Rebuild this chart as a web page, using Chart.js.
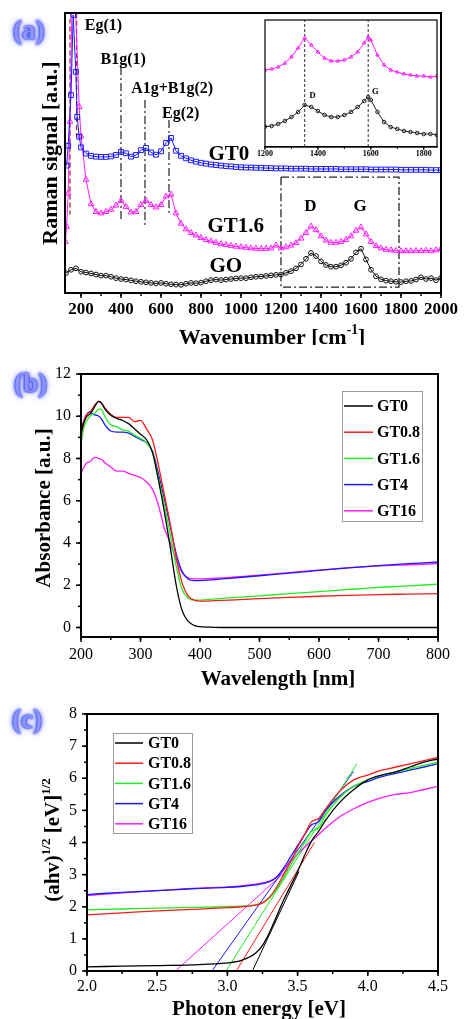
<!DOCTYPE html>
<html>
<head>
<meta charset="utf-8">
<script src="https://cdn.jsdelivr.net/npm/chart.js@4.4.0/dist/chart.umd.min.js"></script>
<style>
body { margin: 0; background: #fff; width: 464px; height: 1019px; position: relative; overflow: hidden; }
canvas { position: absolute; left: 0; }
.tag { position: absolute; font: bold 27px 'Liberation Serif', serif; line-height: 27px; color: #8d96ff;
       text-shadow: 0 0 2px #2633e6, 0 0 3px #2633e6, 0 0 6px #5563ff; }
</style>
</head>
<body>
<div class="tag" style="left:13px;top:17px">(a)</div>
<div class="tag" style="left:14px;top:370px">(b)</div>
<div class="tag" style="left:12px;top:706px">(c)</div>
<canvas id="ca" width="464" height="345" style="top:0"></canvas>
<canvas id="cin" width="190" height="150" style="left:255px;top:14px"></canvas>
<canvas id="cb" width="464" height="350" style="top:340px"></canvas>
<canvas id="cc" width="464" height="334" style="top:685px"></canvas>
<script>
// ---- (a) Raman ----
const ramanTicks = [200, 400, 600, 800, 1000, 1200, 1400, 1600, 1800, 2000];
const ramanX = [200, 225, 250, 275, 300, 325, 350, 375, 400, 425,
    450, 475, 500, 525, 550, 575, 600, 625, 650, 675,
    700, 725, 750, 775, 800, 825, 850, 875, 900, 925,
    950, 975, 1000, 1025, 1050, 1075, 1100, 1125, 1150, 1175,
    1200, 1225, 1250, 1275, 1300, 1325, 1350, 1375, 1400, 1425,
    1450, 1475, 1500, 1525, 1550, 1575, 1600, 1625, 1650, 1675,
    1700, 1725, 1750, 1775, 1800, 1825, 1850, 1875, 1900, 1925,
    1950, 1975, 2000];
const gt0LowX = [128, 136, 150, 161, 174, 181, 191];
const gt0LowY = [45.5, 52.6, 70.7, 99.3, 79.0, 62.9, 55.8];
const gt0Y = [52.0, 49.8, 49.0, 48.7, 48.6, 48.6, 48.8, 49.3, 50.4, 49.9,
    48.7, 49.3, 51.0, 51.8, 50.2, 49.4, 50.6, 53.6, 55.4, 50.8,
    49.0, 48.1, 47.4, 46.9, 46.5, 46.2, 45.9, 45.7, 45.5, 45.3,
    45.2, 45.0, 44.9, 44.8, 44.8, 44.7, 44.7, 44.6, 44.6, 44.5,
    44.5, 44.5, 44.4, 44.4, 44.4, 44.4, 44.3, 44.3, 44.3, 44.3,
    44.3, 44.3, 44.2, 44.2, 44.2, 44.2, 44.2, 44.2, 44.1, 44.1,
    44.1, 44.1, 44.1, 44.1, 44.0, 44.0, 44.0, 44.0, 44.0, 44.0,
    43.9, 43.9, 43.9];
const gt16LowX = [122, 128, 136, 145, 160, 191];
const gt16LowY = [18.3, 23.7, 35.6, 61.2, 125, 66.5];
const gt16Y = [56.0, 40.5, 31.8, 29.0, 28.5, 29.0, 29.8, 31.3, 33.0, 30.8,
    28.8, 29.0, 31.5, 33.0, 31.5, 30.6, 31.5, 34.5, 35.2, 28.5,
    24.8, 22.8, 21.5, 20.6, 19.7, 19.0, 18.5, 18.0, 17.5, 17.2,
    16.9, 16.6, 16.4, 16.2, 16.0, 15.9, 15.8, 15.8, 16.0, 17.0,
    16.0, 16.4, 17.0, 17.9, 19.5, 21.5, 23.8, 22.5, 20.3, 18.8,
    18.0, 18.0, 18.3, 19.0, 20.3, 22.3, 23.5, 21.0, 18.3, 16.8,
    16.0, 15.5, 15.3, 15.1, 15.0, 15.0, 15.0, 15.1, 15.0, 15.2,
    15.0, 15.3, 15.8];
const goLowX = [125, 150, 175];
const goLowY = [7.1, 8.3, 8.8];
const goY = [7.6, 7.3, 7.0, 6.6, 6.2, 6.2, 5.8, 5.3, 5.0, 4.8,
    4.5, 4.2, 4.0, 3.8, 3.6, 3.4, 3.6, 3.3, 3.1, 3.0,
    2.9, 3.3, 3.6, 3.5, 3.7, 4.2, 4.6, 4.8, 4.6, 4.8,
    5.0, 5.2, 5.3, 5.3, 5.6, 5.8, 5.9, 6.1, 6.3, 6.5,
    6.6, 7.2, 7.8, 8.8, 10.2, 12.2, 14.3, 13.2, 11.3, 10.0,
    9.4, 9.4, 9.9, 10.8, 12.2, 14.5, 15.8, 12.0, 8.3, 6.0,
    4.9, 4.4, 4.2, 4.0, 3.9, 4.2, 4.3, 4.8, 5.6, 5.0,
    5.3, 4.6, 5.4];
// mode guide lines: x, top, bottom
const modeX = [400, 520, 640];
const modeTop = [80.7, 68.9, 61.8];
const modeBottom = [26.1, 24.3, 28.6];
const eg1X = [178, 145];
const eg1Top = [100, 98];
const eg1Bottom = [55.7, 28];
const boxX = [1200, 1790];
const boxY = [2.1, 41.4];

// ---- (a) inset ----
const insetTicks = [1200, 1400, 1600, 1800];
const insetX = [1200, 1225, 1250, 1275, 1300, 1325, 1350, 1375, 1400, 1425, 1450, 1475, 1500, 1525,
    1550, 1575, 1590, 1600, 1625, 1650, 1675, 1700, 1725, 1750, 1775, 1800, 1825, 1850];
const insetGt16 = [60.6, 61.4, 63.0, 66.0, 70.9, 78.0, 85.8, 80.3, 74.8, 70.0, 67.7, 67.7, 68.5, 70.9,
    74.8, 81.9, 86.6, 84.3, 72.4, 64.6, 60.6, 59.0, 57.5, 56.7, 55.9, 55.9, 55.1, 55.9];
const insetGo = [16.0, 16.5, 18.1, 20.5, 23.6, 27.6, 33.1, 31.5, 28.3, 25.2, 23.6, 23.6, 25.2, 27.6,
    31.5, 36.2, 39.4, 37.0, 27.6, 19.7, 15.7, 14.2, 12.6, 11.8, 11.0, 10.2, 10.2, 9.4];
const insetPeakX = [1350, 1590];

// ---- (b) absorbance ----
const absTicksX = [200, 300, 400, 500, 600, 700, 800];
const absTicksY = [0, 2, 4, 6, 8, 10, 12];
const absX = [200, 205, 210, 215, 220, 225, 230, 235, 240, 250, 260, 270, 280, 290, 300, 310, 320,
    330, 340, 350, 360, 370, 380, 390, 400, 425, 450, 500, 550, 600, 650, 700, 750, 800];
const absGT0 = [9.2, 9.7, 10.0, 10.1, 10.3, 10.55, 10.7, 10.6, 10.35, 10.05, 9.9, 9.8, 9.65, 9.4, 9.15, 8.9, 8.3,
    7.0, 5.5, 3.8, 2.0, 0.8, 0.3, 0.1, 0.04, 0.01, 0, 0, 0, 0, 0, 0, 0, 0];
const absGT08 = [9.0, 9.8, 10.1, 10.2, 10.4, 10.6, 10.7, 10.6, 10.4, 10.1, 9.95, 9.95, 9.95, 9.75, 9.8, 9.4, 8.9,
    7.7, 6.3, 4.9, 3.3, 2.1, 1.5, 1.3, 1.25, 1.27, 1.3, 1.37, 1.43, 1.48, 1.52, 1.56, 1.58, 1.6];
const absGT16 = [8.7, 9.5, 9.8, 10.0, 10.1, 10.2, 10.35, 10.3, 10.0, 9.6, 9.5, 9.35, 9.3, 9.1, 8.95, 8.75, 8.3,
    7.1, 5.8, 4.4, 2.9, 1.8, 1.4, 1.3, 1.3, 1.35, 1.4, 1.5, 1.6, 1.7, 1.8, 1.9, 1.97, 2.05];
const absGT4 = [9.4, 9.8, 10.1, 10.2, 10.1, 10.05, 10.0, 9.85, 9.6, 9.3, 9.25, 9.25, 9.2, 9.05, 8.9, 8.75, 8.35,
    7.3, 6.1, 4.8, 3.5, 2.65, 2.3, 2.22, 2.22, 2.27, 2.33, 2.45, 2.57, 2.7, 2.82, 2.93, 3.02, 3.1];
const absGT160 = [7.3, 7.6, 7.8, 7.85, 8.0, 8.05, 8.0, 7.95, 7.8, 7.6, 7.4, 7.4, 7.3, 7.2, 7.1, 6.9, 6.55,
    5.8, 4.7, 4.0, 3.2, 2.6, 2.35, 2.3, 2.3, 2.33, 2.37, 2.48, 2.6, 2.72, 2.83, 2.92, 2.97, 3.02];

// ---- (c) Tauc plot ----
const taucTicksX = [2.0, 2.5, 3.0, 3.5, 4.0, 4.5];
const taucTicksY = [0, 1, 2, 3, 4, 5, 6, 7, 8];
const taucX = [2.0, 2.25, 2.5, 2.75, 3.0, 3.1, 3.2, 3.25, 3.3, 3.35, 3.4, 3.45, 3.5, 3.55, 3.6, 3.65, 3.7,
    3.8, 3.9, 4.0, 4.1, 4.2, 4.3, 4.4, 4.5];
const taucGT0 = [0.13, 0.15, 0.17, 0.19, 0.25, 0.33, 0.55, 0.8, 1.2, 1.7, 2.2, 2.65, 3.1, 3.6, 4.05, 4.35, 4.7,
    5.25, 5.65, 5.95, 6.1, 6.2, 6.35, 6.5, 6.6];
const taucGT08 = [1.75, 1.81, 1.87, 1.92, 1.97, 2.0, 2.05, 2.12, 2.3, 2.6, 3.0, 3.4, 3.85, 4.25, 4.65, 4.75, 5.05,
    5.6, 5.95, 6.1, 6.25, 6.35, 6.45, 6.55, 6.65];
const taucGT16 = [1.9, 1.93, 1.96, 1.98, 2.0, 2.02, 2.06, 2.12, 2.28, 2.55, 2.9, 3.3, 3.65, 4.0, 4.35, 4.45, 4.85,
    5.4, 5.75, 5.95, 6.1, 6.2, 6.3, 6.4, 6.5];
const taucGT4 = [2.38, 2.45, 2.5, 2.56, 2.6, 2.63, 2.68, 2.72, 2.78, 2.92, 3.2, 3.55, 3.9, 4.25, 4.55, 4.65, 5.0,
    5.45, 5.75, 5.9, 6.05, 6.15, 6.25, 6.35, 6.45];
const taucGT160 = [2.35, 2.43, 2.5, 2.57, 2.62, 2.65, 2.7, 2.74, 2.8, 2.92, 3.15, 3.4, 3.65, 3.85, 4.05, 4.25, 4.45,
    4.8, 5.05, 5.25, 5.4, 5.5, 5.55, 5.65, 5.75];
// band-gap tangent lines: [x0, x1], [y0, y1]
const fitGT0 = [[3.178, 3.51], [0, 3.1]];
const fitGT08 = [[3.063, 3.62], [0, 4.0]];
const fitGT16 = [[2.99, 3.922], [0, 6.45]];
const fitGT4 = [[2.89, 3.898], [0, 6.21]];
const fitGT160 = [[2.63, 3.45], [0, 3.24]];

const SERIF = "'Liberation Serif', 'Times New Roman', serif";
Chart.defaults.font.family = SERIF;
Chart.defaults.color = '#000';
Chart.defaults.animation = false;
Chart.defaults.events = [];
Chart.defaults.plugins.legend.display = false;
Chart.defaults.plugins.tooltip.enabled = false;

const C = { black: '#000000', red: '#ff1a1a', green: '#1fef1f', blue: '#1a1aff', pink: '#ff1aff' };

function pts(xs, ys) {
    return xs.map((x, i) => ({ x: x, y: ys[i] }));
}

function seg(x0, x1, y0, y1) {
    return [{ x: x0, y: y0 }, { x: x1, y: y1 }];
}

function axis(min, max, ticks, o) {
    return {
        type: 'linear', min: min, max: max, display: o.hide ? false : true,
        grid: { display: false, drawTicks: false },
        border: { display: true, color: '#000', width: o.bw || 2 },
        ticks: { display: !o.noLabels, padding: o.pad || 0, autoSkip: false, maxRotation: 0, font: o.font, callback: o.fmt || (v => v) },
        afterBuildTicks: s => { s.ticks = ticks.map(v => ({ value: v })); },
        afterFit: s => { if (o.h !== undefined) s.height = o.h; if (o.w !== undefined) s.width = o.w; }
    };
}

// rich text, (x, y) is centre of the text
function drawRich(ctx, parts, x, y, size, rot) {
    ctx.save();
    ctx.translate(x, y);
    ctx.rotate(rot || 0);
    let w = 0;
    parts.forEach(p => {
        ctx.font = 'bold ' + (p.sup ? size * 0.62 : size) + 'px ' + SERIF;
        w += ctx.measureText(p.t).width;
    });
    let cx = -w / 2;
    ctx.textAlign = 'left';
    ctx.textBaseline = 'alphabetic';
    ctx.fillStyle = '#000';
    parts.forEach(p => {
        ctx.font = 'bold ' + (p.sup ? size * 0.62 : size) + 'px ' + SERIF;
        ctx.fillText(p.t, cx, p.sup ? size * 0.35 - size * 0.45 : size * 0.35);
        cx += ctx.measureText(p.t).width;
    });
    ctx.restore();
}

function drawFrame(chart, o) {
    const ctx = chart.ctx;
    const a = chart.chartArea;
    const scales = chart.scales;
    ctx.save();
    ctx.strokeStyle = '#000';
    ctx.lineWidth = o.lw || 2;
    ctx.strokeRect(a.left, a.top, a.right - a.left, a.bottom - a.top);
    ctx.lineWidth = o.tw || 1.5;
    const tick = (scale, step, len) => {
        if (!step || !scale) return;
        const first = Math.ceil(scale.min / step - 1e-6);
        const last = Math.floor(scale.max / step + 1e-6);
        for (let k = first; k <= last; k++) {
            const p = scale.getPixelForValue(k * step);
            ctx.beginPath();
            if (scale.isHorizontal()) { ctx.moveTo(p, a.bottom); ctx.lineTo(p, a.bottom + len); }
            else { ctx.moveTo(a.left, p); ctx.lineTo(a.left - len, p); }
            ctx.stroke();
        }
    };
    tick(scales.x, o.xMinor, o.minLen || 3);
    tick(scales.x, o.xMajor, o.majLen || 5);
    tick(scales.y, o.yMinor, o.minLen || 3);
    tick(scales.y, o.yMajor, o.majLen || 5);
    ctx.restore();
}

const framePlugin = {
    id: 'frame',
    afterDraw(chart, args, o) {
        drawFrame(chart, o);
    }
};

const notesPlugin = {
    id: 'notes',
    afterDraw(chart, args, o) {
        const { ctx, scales } = chart;
        ctx.save();
        ctx.fillStyle = '#000';
        ctx.textBaseline = 'middle';
        (o.items || []).forEach(n => {
            ctx.font = 'bold ' + n.size + 'px ' + SERIF;
            ctx.textAlign = n.align || 'left';
            ctx.fillText(n.t, scales.x.getPixelForValue(n.x), scales.y.getPixelForValue(n.y));
        });
        ctx.restore();
        (o.titles || []).forEach(t => drawRich(ctx, t.parts, t.x, t.y, t.size, t.rot));
    }
};

const boxLegendPlugin = {
    id: 'boxLegend',
    afterDraw(chart, args, o) {
        if (!o.x) return;
        const ctx = chart.ctx;
        ctx.save();
        ctx.strokeStyle = '#9a9a9a';
        ctx.lineWidth = 1;
        ctx.strokeRect(o.x + 0.5, o.y + 0.5, o.w, o.h);
        ctx.font = 'bold ' + o.size + 'px ' + SERIF;
        ctx.textBaseline = 'middle';
        ctx.textAlign = 'left';
        chart.data.datasets.filter(d => d.inLegend).forEach((d, i) => {
            const y = o.row0 + i * o.rowH;
            ctx.strokeStyle = d.borderColor;
            ctx.lineWidth = 1.5;
            ctx.beginPath();
            ctx.moveTo(o.line0, y);
            ctx.lineTo(o.line1, y);
            ctx.stroke();
            ctx.fillStyle = '#000';
            ctx.fillText(d.label, o.textX, y + 1);
        });
        ctx.restore();
    }
};

const plugins = [framePlugin, notesPlugin, boxLegendPlugin];

function markers(label, data, color, style, r) {
    return {
        label: label, data: data, showLine: true, borderColor: color, borderWidth: 1,
        pointStyle: style, pointRadius: r, pointBorderColor: color, pointBorderWidth: 1,
        pointBackgroundColor: 'rgba(0,0,0,0)'
    };
}

function guide(data, color, dash, width) {
    return { data: data, showLine: true, borderColor: color, borderWidth: width || 1.2, borderDash: dash, pointRadius: 0 };
}

// ---------- panel (a) ----------
const dashDot = [8, 3, 2, 3];
const aSets = [
    markers('GT0', pts(gt0LowX.concat(ramanX), gt0LowY.concat(gt0Y)), C.blue, 'rect', 3.4),
    markers('GT1.6', pts(gt16LowX.concat(ramanX), gt16LowY.concat(gt16Y)), C.pink, 'triangle', 3.3),
    markers('GO', pts(goLowX.concat(ramanX), goLowY.concat(goY)), '#111111', 'circle', 2.4)
];
modeX.forEach((x, i) => aSets.push(guide(seg(x, x, modeTop[i], modeBottom[i]), '#222', dashDot)));
eg1X.forEach((x, i) => aSets.push(guide(seg(x, x, eg1Top[i], eg1Bottom[i]), '#a33030', [5, 3], 1.3)));
aSets.push(guide([
    { x: boxX[0], y: boxY[1] }, { x: boxX[1], y: boxY[1] }, { x: boxX[1], y: boxY[0] },
    { x: boxX[0], y: boxY[0] }, { x: boxX[0], y: boxY[1] }
], '#222', dashDot, 1.3));

new Chart(document.getElementById('ca'), {
    type: 'scatter',
    data: { datasets: aSets },
    plugins: plugins,
    options: {
        responsive: false,
        layout: { padding: { left: 0, top: 13, right: 19, bottom: 0 } },
        scales: {
            x: axis(120, 2000, ramanTicks, { pad: 6, h: 52, font: { size: 17, weight: 'bold' } }),
            y: axis(0, 100, [], { noLabels: true, w: 65 })
        },
        plugins: {
            frame: { xMajor: 200, xMinor: 100 },
            notes: {
                items: [
                    { t: 'Eg(1)', x: 219, y: 95.4, size: 16 },
                    { t: 'B1g(1)', x: 298, y: 83.2, size: 16 },
                    { t: 'A1g+B1g(2)', x: 451, y: 72.9, size: 16 },
                    { t: 'Eg(2)', x: 605, y: 63.9, size: 16 },
                    { t: 'GT0', x: 837, y: 49.6, size: 21 },
                    { t: 'GT1.6', x: 832, y: 23.6, size: 21 },
                    { t: 'GO', x: 842, y: 9.6, size: 21 },
                    { t: 'D', x: 1347, y: 30.7, size: 17, align: 'center' },
                    { t: 'G', x: 1595, y: 30.7, size: 17, align: 'center' }
                ],
                titles: [
                    { parts: [{ t: 'Wavenumber [cm' }, { t: '-1', sup: true }, { t: ']' }], x: 272, y: 336, size: 22 },
                    { parts: [{ t: 'Raman signal [a.u.]' }], x: 49, y: 153, size: 22, rot: -Math.PI / 2 }
                ]
            }
        }
    }
});

// ---------- inset ----------
const inSets = [
    markers('GT1.6', pts(insetX, insetGt16), C.pink, 'triangle', 2),
    markers('GO', pts(insetX, insetGo), '#222222', 'circle', 1.8)
];
insetPeakX.forEach(x => inSets.push(guide(seg(x, x, 0, 100), '#333', [3, 2], 1)));

new Chart(document.getElementById('cin'), {
    type: 'scatter',
    data: { datasets: inSets },
    plugins: plugins,
    options: {
        responsive: false,
        layout: { padding: { left: 8, top: 6, right: 8, bottom: 0 } },
        scales: {
            x: axis(1200, 1850, insetTicks, { pad: 2, h: 17, bw: 1.2, font: { size: 8, weight: 'bold' } }),
            y: axis(0, 100, [], { hide: true })
        },
        plugins: {
            frame: { lw: 1.2, tw: 1, xMajor: 200, xMinor: 100, majLen: 3, minLen: 2 },
            notes: {
                items: [
                    { t: 'D', x: 1380, y: 40.2, size: 8.5, align: 'center' },
                    { t: 'G', x: 1617, y: 43.3, size: 8.5, align: 'center' }
                ]
            }
        }
    }
});

// ---------- panel (b) ----------
function curve(label, data, color, legend) {
    return {
        label: label, data: data, showLine: true, borderColor: color, borderWidth: 1.3,
        pointRadius: 0, cubicInterpolationMode: 'monotone', inLegend: legend
    };
}

new Chart(document.getElementById('cb'), {
    type: 'scatter',
    data: {
        datasets: [
            curve('GT0', pts(absX, absGT0), C.black, true),
            curve('GT0.8', pts(absX, absGT08), C.red, true),
            curve('GT1.6', pts(absX, absGT16), C.green, true),
            curve('GT4', pts(absX, absGT4), C.blue, true),
            curve('GT16', pts(absX, absGT160), C.pink, true)
        ]
    },
    plugins: plugins,
    options: {
        responsive: false,
        layout: { padding: { left: 0, top: 34, right: 26, bottom: 0 } },
        scales: {
            x: axis(200, 800, absTicksX, { pad: 8, h: 53, font: { size: 16 } }),
            y: axis(-0.45, 12, absTicksY, { pad: 10, w: 81, font: { size: 16 } })
        },
        plugins: {
            frame: { xMajor: 100, xMinor: 50, yMajor: 2, yMinor: 1 },
            boxLegend: { x: 342, y: 51, w: 80, h: 130, row0: 66, rowH: 26.2, line0: 344, line1: 373, textX: 377, size: 16 },
            notes: {
                titles: [
                    { parts: [{ t: 'Wavelength [nm]' }], x: 278, y: 338, size: 21 },
                    { parts: [{ t: 'Absorbance [a.u.]' }], x: 43, y: 168, size: 21, rot: -Math.PI / 2 }
                ]
            }
        }
    }
});

// ---------- panel (c) ----------
function fit(f, color) {
    return { data: seg(f[0][0], f[0][1], f[1][0], f[1][1]), showLine: true, borderColor: color, borderWidth: 1, pointRadius: 0 };
}

new Chart(document.getElementById('cc'), {
    type: 'scatter',
    data: {
        datasets: [
            curve('GT0', pts(taucX, taucGT0), C.black, true),
            curve('GT0.8', pts(taucX, taucGT08), C.red, true),
            curve('GT1.6', pts(taucX, taucGT16), C.green, true),
            curve('GT4', pts(taucX, taucGT4), C.blue, true),
            curve('GT16', pts(taucX, taucGT160), C.pink, true),
            fit(fitGT0, C.black), fit(fitGT08, C.red), fit(fitGT16, C.green),
            fit(fitGT4, C.blue), fit(fitGT160, C.pink)
        ]
    },
    plugins: plugins,
    options: {
        responsive: false,
        layout: { padding: { left: 0, top: 29, right: 26, bottom: 0 } },
        scales: {
            x: axis(2.0, 4.5, taucTicksX, { pad: 6, h: 48, font: { size: 16 }, fmt: v => v.toFixed(1) }),
            y: axis(0, 8, taucTicksY, { pad: 10, w: 87, font: { size: 16 } })
        },
        plugins: {
            frame: { xMajor: 0.5, xMinor: 0.25, yMajor: 1, yMinor: 0.5 },
            boxLegend: { x: 113, y: 48, w: 79, h: 100, row0: 58, rowH: 20.2, line0: 115, line1: 143, textX: 148, size: 16 },
            notes: {
                titles: [
                    { parts: [{ t: 'Photon energy [eV]' }], x: 259, y: 323, size: 21 },
                    { parts: [{ t: '(ahv)' }, { t: '1/2', sup: true }, { t: ' [eV]' }, { t: '1/2', sup: true }], x: 52, y: 155, size: 21, rot: -Math.PI / 2 }
                ]
            }
        }
    }
});
</script>
</body>
</html>
